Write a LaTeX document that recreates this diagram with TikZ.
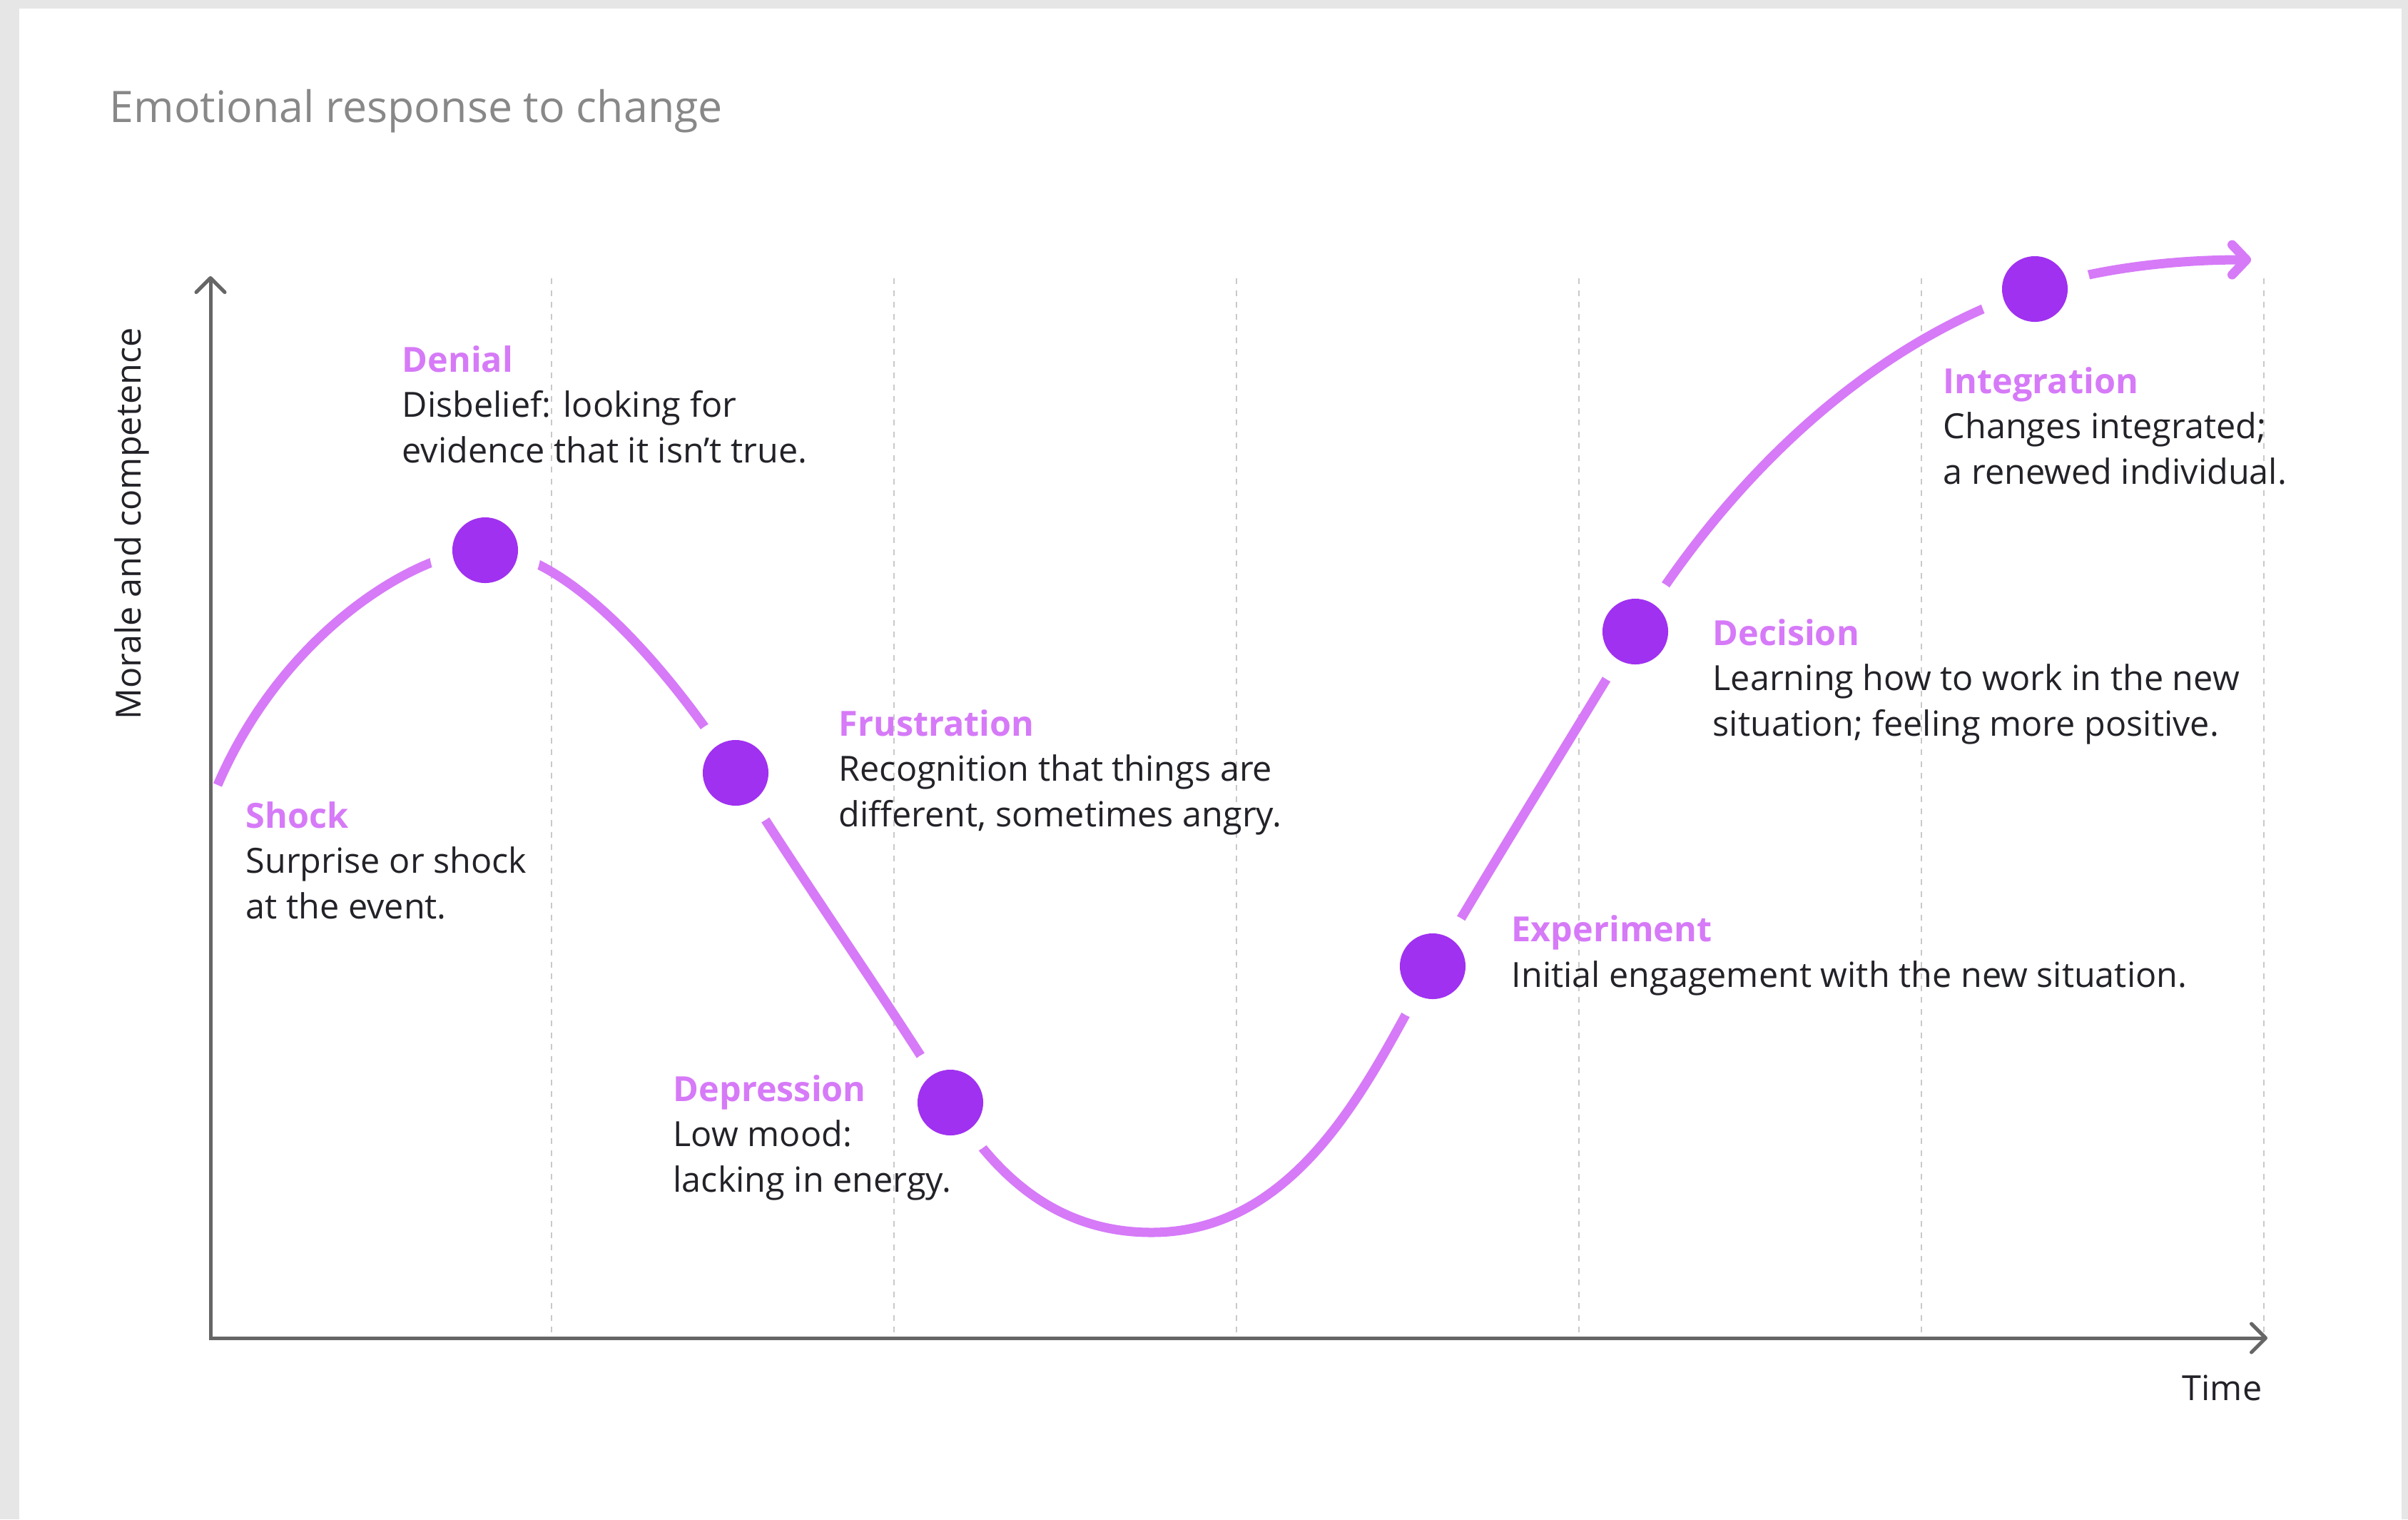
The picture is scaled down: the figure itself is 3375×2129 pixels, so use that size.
\documentclass[tikz,border=0pt]{standalone}
\usepackage{fontspec}
\setmainfont{Open Sans}
\usetikzlibrary{arrows.meta}

\definecolor{curvecol}{HTML}{D67AF8}
\definecolor{dotcol}{HTML}{A031F0}
\definecolor{inkcol}{HTML}{222228}
\definecolor{axiscol}{HTML}{666666}
\definecolor{gridcol}{HTML}{C9C9C9}
\definecolor{titlecol}{HTML}{888888}
\definecolor{pagecol}{HTML}{E6E6E6}

\newcommand{\stagename}[1]{{\color{curvecol}\bfseries #1}}

\begin{document}
\begin{tikzpicture}[
    x=0.01cm, y=-0.01cm,
    body/.style={font=\fontsize{13.8pt}{18pt}\selectfont, text=inkcol, inner sep=0pt},
    % multi-line labels sit on the baseline of their last line
    stage/.style={body, anchor=base west, align=left},
    stagedot/.style={circle, fill=dotcol, minimum size=0.92cm, inner sep=0pt,
        preaction={fill=white, draw=white, line width=0.64cm}},
    mood/.style={draw=curvecol, line width=0.13cm},
    axisline/.style={draw=axiscol, line width=0.05cm},
    gridline/.style={draw=gridcol, line width=0.025cm, dash pattern=on 0.08cm off 0.085cm}
]
\useasboundingbox (0,0) rectangle (3375,2129);
\fill[pagecol] (0,0) rectangle (3375,2129);
\fill[white] (27,12) rectangle (3366,2129);

\node[font=\fontsize{17.3pt}{21pt}\selectfont, text=titlecol, anchor=base west, inner sep=0pt]
    (title) at (153,171) {Emotional response to change};

% time grid
\foreach \x in {773,1253,1733,2213,2693,3173}
    \draw[gridline] (\x,390) -- (\x,1875);

% axes
\coordinate (origin) at (295,1875);
\coordinate (ytop) at (295,387);
\coordinate (xend) at (3178,1875);
\draw[axisline, {Straight Barb[length=0.2cm, width=0.4cm, round]}-{Straight Barb[length=0.2cm, width=0.4cm, round]}]
    (ytop) -- (origin) -- (xend);
\node[body, rotate=90, anchor=base] (ylab) at (197,734) {Morale and competence};
\node[body, anchor=base east] (xlab) at (3171,1962) {Time};

% stages along the curve
\coordinate (start) at (305,1100);
\coordinate (den) at (680,771);
\coordinate (fru) at (1031,1083);
\coordinate (dep) at (1332,1545);
\coordinate (low) at (1614,1727);
\coordinate (exp) at (2008,1354);
\coordinate (dec) at (2292,885);
\coordinate (int) at (2852,405);
\coordinate (tip) at (3155,364);

\draw[mood, -{Straight Barb[length=0.2cm, width=0.42cm, round]}]
    (start) .. controls (400,880) and (590,771) .. (den)
    .. controls (800,771) and (951,956) .. (fru)
    .. controls (1126,1236) and (1237,1392) .. (dep)
    .. controls (1390,1639) and (1474,1727) .. (low)
    .. controls (1834,1727) and (1932,1483) .. (exp)
    .. controls (2099,1199) and (2199,1039) .. (dec)
    .. controls (2396,714) and (2586,492) .. (int)
    .. controls (2947,374) and (3055,364) .. (tip);

\node[stagedot] (den-dot) at (den) {};
\node[stagedot] (fru-dot) at (fru) {};
\node[stagedot] (dep-dot) at (dep) {};
\node[stagedot] (exp-dot) at (exp) {};
\node[stagedot] (dec-dot) at (dec) {};
\node[stagedot] (int-dot) at (int) {};

% labels
\node[stage] (shock) at (344,1287) {\stagename{Shock}\\Surprise or shock\\at the event.};
\node[stage] (denial) at (563,648) {\stagename{Denial}\\Disbelief: looking for\\evidence that it isn’t true.};
\node[stage] (frustration) at (1175,1158) {\stagename{Frustration}\\Recognition that things are\\different, sometimes angry.};
\node[stage] (depression) at (943,1670) {\stagename{Depression}\\Low mood:\\lacking in energy.};
\node[stage] (experiment) at (2118,1383) {\stagename{Experiment}\\Initial engagement with the new situation.};
\node[stage] (decision) at (2400,1031) {\stagename{Decision}\\Learning how to work in the new\\situation; feeling more positive.};
\node[stage] (integration) at (2723,678) {\stagename{Integration}\\Changes integrated;\\a renewed individual.};
\end{tikzpicture}
\end{document}
